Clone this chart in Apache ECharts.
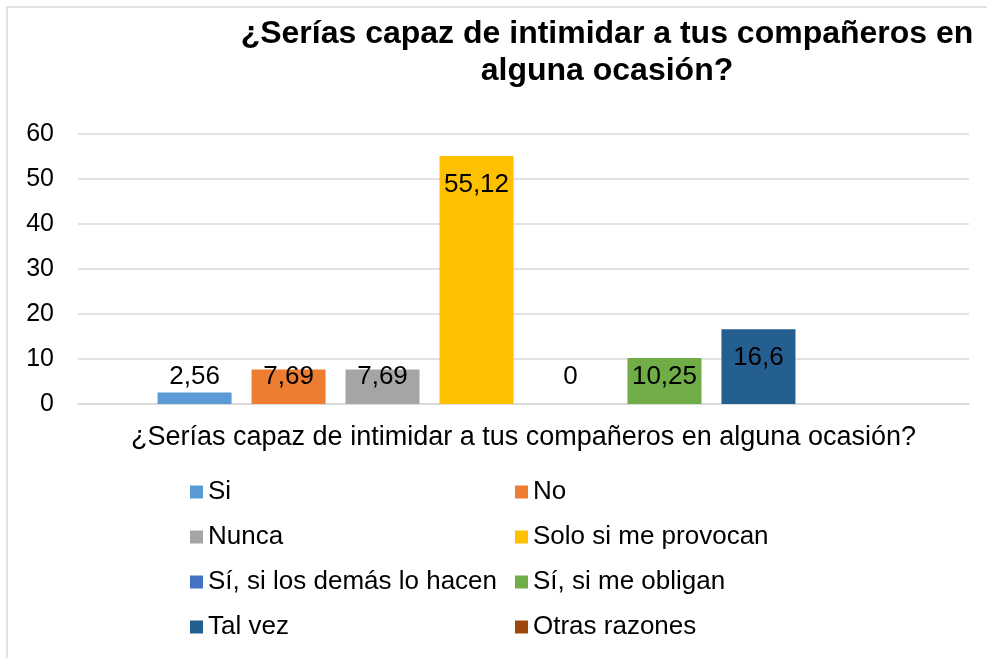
<!DOCTYPE html>
<html lang="es">
<head>
    <meta charset="UTF-8"/>
    <script type="text/javascript" src="https://cdn.jsdelivr.net/npm/echarts@6/dist/echarts.min.js"></script>
    <title>Intimidar</title>
    <style>
        html, body {margin: 0; padding: 0; background: #fff;}
        #main {width: 987px; height: 658px;}
    </style>
</head>
<body>
<div id="main"></div>
<script type="text/javascript">
    // datos
    var categorias = ['¿Serías capaz de intimidar a tus compañeros en alguna ocasión?']
    var series = ['Si', 'No', 'Nunca', 'Solo si me provocan', 'Sí, si los demás lo hacen',
        'Sí, si me obligan', 'Tal vez', 'Otras razones']
    var valores = [2.56, 7.69, 7.69, 55.12, 0, 10.25, 16.6, null]
    var colores = ['#5B9BD5', '#ED7D31', '#A5A5A5', '#FFC000', '#4472C4', '#70AD47', '#255E91', '#9E480E']
    var ticks = [0, 10, 20, 30, 40, 50, 60]

    var font = '"Liberation Sans", Arial, sans-serif'
    var myChart = echarts.init(document.getElementById('main'))

    var lista = []
    for (var i = 0; i < series.length; i++) {
        var v = valores[i]
        // etiqueta "extremo interno", pero sin bajar de la base en barras cortas
        var alta = v !== null && v >= 12.5
        lista.push({
            name: series[i],
            type: 'bar',
            barWidth: 74,
            barGap: '27%',
            itemStyle: {color: colores[i]},
            label: {
                show: true,
                position: alta ? 'insideTop' : 'insideBottom',
                distance: alta ? 16 : 14,
                color: '#000',
                fontFamily: font,
                fontSize: 26,
                lineHeight: 26,
                formatter: function (p) {
                    return String(p.value).replace('.', ',')
                }
            },
            data: [v]
        })
    }

    var col1 = [series[0], series[2], series[4], series[6]]
    var col2 = [series[1], series[3], series[5], series[7]]

    function leyenda(datos, x) {
        return {
            data: datos,
            orient: 'vertical',
            left: x,
            top: 474,
            itemGap: 19,
            itemWidth: 13,
            itemHeight: 13,
            icon: 'rect',
            selectedMode: false,
            textStyle: {color: '#000', fontFamily: font, fontSize: 26, lineHeight: 26}
        }
    }

    var option = {
        animation: false,
        title: {
            text: '¿Serías capaz de intimidar a tus compañeros en\nalguna ocasión?',
            left: 602,
            top: 11,
            textAlign: 'center',
            textStyle: {color: '#000', fontFamily: font, fontSize: 32, fontWeight: 'bold', lineHeight: 37}
        },
        legend: [leyenda(col1, 185), leyenda(col2, 510)],
        grid: {left: 78, right: 18, top: 134, bottom: 254},
        xAxis: {
            type: 'category',
            data: categorias,
            axisLine: {lineStyle: {color: '#d9d9d9', width: 1.5}},
            axisTick: {show: false},
            axisLabel: {color: '#000', fontFamily: font, fontSize: 27, margin: 20}
        },
        yAxis: {
            type: 'value',
            min: ticks[0],
            max: ticks[ticks.length - 1],
            interval: 10,
            axisLine: {show: false},
            axisTick: {show: false},
            axisLabel: {color: '#000', fontFamily: font, fontSize: 25, margin: 24},
            splitLine: {lineStyle: {color: '#d9d9d9', width: 1.5}}
        },
        graphic: [{
            type: 'rect',
            shape: {x: 7, y: 7, width: 1000, height: 700},
            style: {fill: 'none', stroke: '#d9d9d9', lineWidth: 1.5},
            silent: true
        }],
        series: lista
    }
    myChart.setOption(option)
</script>
</body>
</html>
